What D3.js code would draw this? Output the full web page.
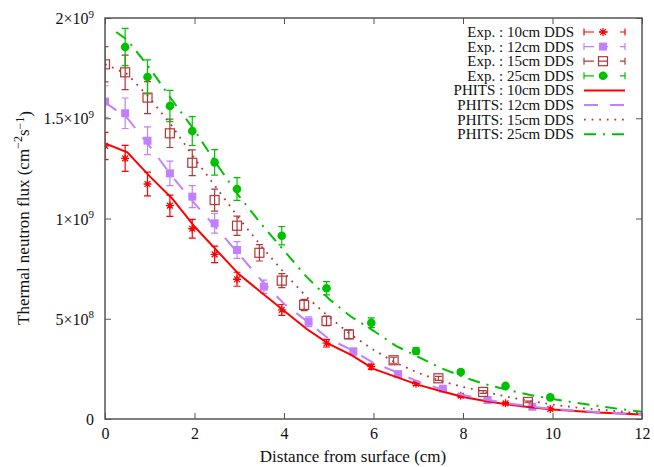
<!DOCTYPE html>
<html>
<head>
<meta charset="utf-8">
<script src="https://cdn.jsdelivr.net/npm/d3@7"></script>
<style>
  body { margin: 0; background: #fff; }
  svg { display: block; font-family: "Liberation Serif", "DejaVu Serif", serif; }
  svg text { font-family: "Liberation Serif", "DejaVu Serif", serif; }
</style>
</head>
<body>
<div id="chart"></div>
<script>
// Experimental data (x in cm, flux in 1e9 cm^-2 s^-1)
var exp10X = [0, 0.45, 0.95, 1.45, 1.95, 2.45, 2.95, 3.95, 4.95, 5.95, 6.95, 7.95, 8.95, 9.95]
var exp10Y = [1.362, 1.30, 1.172, 1.064, 0.949, 0.821, 0.697, 0.544, 0.378, 0.261, 0.176, 0.116, 0.078, 0.050]
var exp10E = [0.068, 0.065, 0.059, 0.053, 0.047, 0.041, 0.035, 0.027, 0.019, 0.013, 0.009, 0.006, 0.004, 0.003]

var exp12X = [0, 0.45, 0.95, 1.45, 1.95, 2.45, 2.95, 3.55, 4.55, 5.55, 6.55, 7.55, 8.55, 9.55]
var exp12Y = [1.583, 1.525, 1.388, 1.225, 1.109, 0.976, 0.843, 0.66, 0.485, 0.336, 0.224, 0.151, 0.095, 0.061]
var exp12E = [0.079, 0.076, 0.069, 0.061, 0.055, 0.049, 0.042, 0.033, 0.024, 0.017, 0.011, 0.008, 0.005, 0.003]

var exp15X = [0, 0.45, 0.95, 1.45, 1.95, 2.45, 2.95, 3.45, 3.95, 4.45, 4.95, 5.45, 6.45, 7.45, 8.45, 9.45]
var exp15Y = [1.769, 1.729, 1.603, 1.425, 1.278, 1.092, 0.964, 0.829, 0.690, 0.569, 0.489, 0.422, 0.293, 0.203, 0.135, 0.085]
var exp15E = [0.088, 0.086, 0.080, 0.071, 0.064, 0.055, 0.048, 0.041, 0.035, 0.028, 0.024, 0.021, 0.015, 0.010, 0.007, 0.004]

var exp25X = [0.45, 0.95, 1.45, 1.95, 2.45, 2.95, 3.95, 4.95, 5.95, 6.95, 7.95, 8.95, 9.95]
var exp25Y = [1.855, 1.706, 1.561, 1.436, 1.28, 1.147, 0.914, 0.652, 0.48, 0.339, 0.234, 0.165, 0.108]
var exp25E = [0.093, 0.085, 0.078, 0.072, 0.064, 0.057, 0.046, 0.033, 0.024, 0.017, 0.012, 0.008, 0.005]

// PHITS calculations
var phitsX = [0, 0.5, 1, 1.5, 2, 2.5, 3, 3.5, 4, 4.5, 5, 5.5, 6, 6.5, 7, 7.5, 8, 8.5, 9, 9.5, 10, 10.5, 11, 11.5, 12]
var phits10 = [1.375, 1.33, 1.21, 1.10, 0.96, 0.84, 0.72, 0.63, 0.54, 0.45, 0.375, 0.32, 0.25, 0.21, 0.17, 0.14, 0.11, 0.09, 0.072, 0.058, 0.047, 0.04, 0.033, 0.028, 0.023]
var phits12 = [1.58, 1.50, 1.36, 1.21, 1.075, 0.95, 0.82, 0.69, 0.575, 0.49, 0.40, 0.345, 0.28, 0.235, 0.186, 0.15, 0.12, 0.097, 0.078, 0.063, 0.05, 0.042, 0.035, 0.029, 0.024]
var phits15 = [1.77, 1.72, 1.60, 1.46, 1.30, 1.15, 1.00, 0.86, 0.73, 0.61, 0.51, 0.42, 0.345, 0.28, 0.23, 0.19, 0.16, 0.135, 0.11, 0.09, 0.072, 0.058, 0.047, 0.038, 0.028]
var phits25X = [0.25, 0.5, 1, 1.5, 2, 2.5, 3, 3.5, 4, 4.5, 5, 5.5, 6, 6.5, 7, 7.5, 8, 8.5, 9, 9.5, 10, 10.5, 11, 11.5, 12]
var phits25 = [1.93, 1.89, 1.75, 1.59, 1.44, 1.27, 1.11, 0.97, 0.84, 0.71, 0.60, 0.51, 0.44, 0.365, 0.31, 0.255, 0.21, 0.173, 0.145, 0.12, 0.10, 0.082, 0.066, 0.05, 0.036]

var xTicks = [0, 2, 4, 6, 8, 10, 12]
var yTicks = [0, 0.5, 1, 1.5, 2]
var yTickLabels = [["0", ""], ["5×10", "8"], ["1×10", "9"], ["1.5×10", "9"], ["2×10", "9"]]

var red = "#ff0000", purple = "#c080ff", brown = "#b03838", green = "#00c000"

var expSeries = [
  {label: "Exp. : 10cm DDS", x: exp10X, y: exp10Y, e: exp10E, color: red, marker: "star"},
  {label: "Exp. : 12cm DDS", x: exp12X, y: exp12Y, e: exp12E, color: purple, marker: "fsquare"},
  {label: "Exp. : 15cm DDS", x: exp15X, y: exp15Y, e: exp15E, color: brown, marker: "osquare"},
  {label: "Exp. : 25cm DDS", x: exp25X, y: exp25Y, e: exp25E, color: green, marker: "circle"},
]
var phitsSeries = [
  {label: "PHITS : 10cm DDS", x: phitsX, y: phits10, color: red, dash: null, width: 2},
  {label: "PHITS: 12cm DDS", x: phitsX, y: phits12, color: purple, dash: "14,12", width: 2},
  {label: "PHITS: 15cm DDS", x: phitsX, y: phits15, color: brown, dash: "1.8,5.8", width: 1.8},
  {label: "PHITS: 25cm DDS", x: phits25X, y: phits25, color: green, dash: "12,7,2,7", width: 2},
]

var dimensions = {
  width: 654,
  height: 467,
  margin: {top: 18, right: 12, bottom: 48, left: 105},
}
dimensions.boundedWidth = dimensions.width - dimensions.margin.left - dimensions.margin.right
dimensions.boundedHeight = dimensions.height - dimensions.margin.top - dimensions.margin.bottom

var svg = d3.select("#chart").append("svg")
  .attr("width", dimensions.width)
  .attr("height", dimensions.height)

var bounds = svg.append("g")
  .attr("transform", `translate(${dimensions.margin.left},${dimensions.margin.top})`)

var xScale = d3.scaleLinear().domain([0, 12]).range([0, dimensions.boundedWidth])
var yScale = d3.scaleLinear().domain([0, 2]).range([dimensions.boundedHeight, 0])

var axisColor = "#555"

// bottom axis, ticks pointing inward
var xAxis = bounds.append("g")
  .attr("transform", `translate(0,${dimensions.boundedHeight})`)
  .call(d3.axisBottom(xScale).tickValues(xTicks).tickSizeInner(-6).tickSizeOuter(0).tickPadding(9))
  .attr("font-family", null).attr("font-size", null)
xAxis.select(".domain").remove()
xAxis.selectAll("line").attr("stroke", axisColor).attr("stroke-width", 1)
xAxis.selectAll("text").attr("font-size", 16).attr("fill", "#111")

// top mirrored ticks
var xTop = bounds.append("g")
  .call(d3.axisTop(xScale).tickValues(xTicks).tickSizeInner(-6).tickSizeOuter(0).tickFormat(""))
xTop.select(".domain").remove()
xTop.selectAll("line").attr("stroke", axisColor)

var yAxis = bounds.append("g")
  .call(d3.axisLeft(yScale).tickValues(yTicks).tickSizeInner(-6).tickSizeOuter(0).tickPadding(11).tickFormat(""))
  .attr("font-family", null).attr("font-size", null)
yAxis.select(".domain").remove()
yAxis.selectAll("line").attr("stroke", axisColor)
yAxis.selectAll(".tick text").each(function(d, i) {
  var t = d3.select(this)
    .attr("font-size", 16).attr("fill", "#111")
    .attr("dy", "0.35em")
  var lab = yTickLabels[yTicks.indexOf(d)]
  t.append("tspan").text(lab[0])
  if (lab[1]) t.append("tspan").attr("font-size", 11).attr("dy", "-0.6em").text(lab[1])
})

var yRight = bounds.append("g")
  .attr("transform", `translate(${dimensions.boundedWidth},0)`)
  .call(d3.axisRight(yScale).tickValues(yTicks).tickSizeInner(-6).tickSizeOuter(0).tickFormat(""))
yRight.select(".domain").remove()
yRight.selectAll("line").attr("stroke", axisColor)

// clip for the data
svg.append("defs").append("clipPath").attr("id", "clip")
  .append("rect").attr("width", dimensions.boundedWidth).attr("height", dimensions.boundedHeight)

var plot = bounds.append("g").attr("clip-path", "url(#clip)")

function starPath(s) {
  var k = s * 0.72
  return `M${-s},0H${s}M0,${-s}V${s}M${-k},${-k}L${k},${k}M${-k},${k}L${k},${-k}`
}

function drawMarker(g, type, color, cx, cy) {
  if (type == "star") {
    g.append("path").attr("d", starPath(4)).attr("transform", `translate(${cx},${cy})`)
      .attr("stroke", color).attr("stroke-width", 1.3).attr("fill", "none")
  } else if (type == "fsquare") {
    g.append("rect").attr("x", cx - 4).attr("y", cy - 4).attr("width", 8).attr("height", 8)
      .attr("fill", color)
  } else if (type == "osquare") {
    g.append("rect").attr("x", cx - 4.5).attr("y", cy - 4.5).attr("width", 9).attr("height", 9)
      .attr("fill", "none").attr("stroke", color).attr("stroke-width", 1.2)
  } else if (type == "circle") {
    g.append("circle").attr("cx", cx).attr("cy", cy).attr("r", 4.3).attr("fill", color)
  }
}

// experimental points with error bars
expSeries.forEach(function(s) {
  var g = plot.append("g")
  s.x.forEach(function(xv, i) {
    var cx = xScale(xv), cy = yScale(s.y[i])
    var lo = yScale(s.y[i] - s.e[i]), hi = yScale(s.y[i] + s.e[i])
    g.append("path")
      .attr("d", `M${cx},${lo}V${hi}M${cx - 3.5},${lo}H${cx + 3.5}M${cx - 3.5},${hi}H${cx + 3.5}`)
      .attr("stroke", s.color).attr("stroke-width", 1.2).attr("fill", "none")
    drawMarker(g, s.marker, s.color, cx, cy)
  })
})

// PHITS lines
var lineGenerator = d3.line()
  .x(d => xScale(d[0]))
  .y(d => yScale(d[1]))

phitsSeries.forEach(function(s) {
  plot.append("path")
    .attr("d", lineGenerator(s.x.map((xv, i) => [xv, s.y[i]])))
    .attr("fill", "none")
    .attr("stroke", s.color)
    .attr("stroke-width", s.width)
    .attr("stroke-dasharray", s.dash)
})

// border
bounds.append("rect")
  .attr("width", dimensions.boundedWidth)
  .attr("height", dimensions.boundedHeight)
  .attr("fill", "none")
  .attr("stroke", axisColor)
  .attr("stroke-width", 1.5)

// axis titles
svg.append("text")
  .attr("x", 353).attr("y", 462)
  .attr("text-anchor", "middle").attr("font-size", 17).attr("fill", "#111")
  .text("Distance from surface (cm)")

var yTitle = svg.append("text")
  .attr("transform", "translate(29,218) rotate(-90)")
  .attr("text-anchor", "middle").attr("font-size", 17).attr("fill", "#111")
yTitle.append("tspan").text("Thermal neutron flux (cm")
yTitle.append("tspan").attr("font-size", 12).attr("dy", "-0.6em").text("−2")
yTitle.append("tspan").attr("dy", "0.42em").text("s")
yTitle.append("tspan").attr("font-size", 12).attr("dy", "-0.42em").text("−1")
yTitle.append("tspan").attr("dy", "0.42em").text(")")

// legend
var legend = svg.append("g")
var rowY = 32, rowStep = 14.6, sx0 = 584, sx1 = 625
expSeries.forEach(function(s, i) {
  var y = rowY + i * rowStep
  legend.append("text").attr("x", 574).attr("y", y).attr("dy", "0.33em")
    .attr("text-anchor", "end").attr("font-size", 15).attr("fill", "#111").text(s.label)
  legend.append("path")
    .attr("d", `M${sx0},${y - 3.5}V${y + 3.5}M${sx0},${y}H${sx0 + 10}M${sx0 + 15},${y}H${sx0 + 24}M${sx1 - 5},${y}H${sx1}M${sx1},${y - 3.5}V${y + 3.5}`)
    .attr("stroke", s.color).attr("stroke-width", 1.2).attr("fill", "none")
  drawMarker(legend, s.marker, s.color, sx0 + 19, y)
})
phitsSeries.forEach(function(s, i) {
  var y = rowY + (i + 4) * rowStep
  legend.append("text").attr("x", 574).attr("y", y).attr("dy", "0.33em")
    .attr("text-anchor", "end").attr("font-size", 15).attr("fill", "#111").text(s.label)
  legend.append("line")
    .attr("x1", sx0).attr("x2", sx1).attr("y1", y).attr("y2", y)
    .attr("stroke", s.color).attr("stroke-width", s.width)
    .attr("stroke-dasharray", s.dash)
})
</script>
</body>
</html>
